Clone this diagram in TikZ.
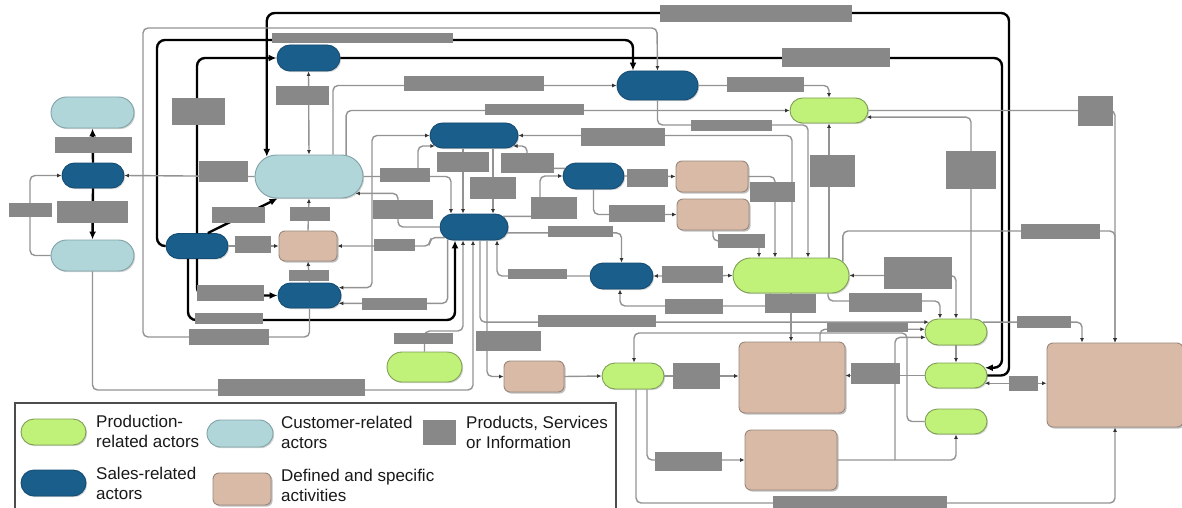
\documentclass[tikz,border=0pt]{standalone}
\usepackage{fontspec}
\setmainfont{Liberation Sans}
\usepackage{tikz}
\usetikzlibrary{arrows.meta,shapes.misc,shadows}
\definecolor{prodgreen}{HTML}{C0F279}
\definecolor{prodedge}{HTML}{7F9E55}
\definecolor{custblue}{HTML}{B0D6DA}
\definecolor{custedge}{HTML}{80A2A6}
\definecolor{salesblue}{HTML}{1A5E8C}
\definecolor{salesedge}{HTML}{154C72}
\definecolor{acttan}{HTML}{D8BAA6}
\definecolor{actedge}{HTML}{9A877B}
\definecolor{infogray}{HTML}{888888}
\definecolor{flowgray}{HTML}{939393}
\tikzset{
  actor/.style={rounded rectangle, inner sep=0pt, line width=0.9pt,
    drop shadow={shadow xshift=1.2pt, shadow yshift=-1.2pt, opacity=0.35}},
  prod/.style={actor, fill=prodgreen, draw=prodedge},
  cust/.style={actor, fill=custblue, draw=custedge},
  sales/.style={actor, fill=salesblue, draw=salesedge},
  act/.style={rectangle, rounded corners=6pt, inner sep=0pt, line width=0.9pt,
    fill=acttan, draw=actedge,
    drop shadow={shadow xshift=1.6pt, shadow yshift=-1.6pt, opacity=0.5}},
  info/.style={rectangle, inner sep=0pt, fill=infogray},
  flow/.style={draw=flowgray, line width=1.4pt, rounded corners=5pt},
  flowto/.style={flow, -{Latex[length=4.5pt,width=4pt,color=black!80]}},
  flowboth/.style={flow, {Latex[length=4.5pt,width=4pt,color=black!80]}-{Latex[length=4.5pt,width=4pt,color=black!80]}},
  main/.style={draw=black, line width=2.4pt, rounded corners=8pt, -{Latex[length=8pt,width=7pt]}},
  legtext/.style={anchor=north west, inner sep=0pt, align=left,
    font=\fontsize{17}{20}\selectfont, text=black!90}
}

\begin{document}
\begin{tikzpicture}[x=1pt, y=-1pt]
  % 1 unit = 1 px of the layout, y pointing down
  \useasboundingbox (0,0) rectangle (1182,508);

  % customer-related actors
  \node[cust, minimum width=83pt, minimum height=31pt] (cu1) at (92.5,112.5) {};
  \node[cust, minimum width=83pt, minimum height=31pt] (cu2) at (92.5,255.5) {};
  \node[cust, minimum width=108pt, minimum height=43pt] (cu3) at (309,176.5) {};

  % sales-related actors
  \node[sales, minimum width=62pt, minimum height=25pt] (sa1) at (93,175.5) {};
  \node[sales, minimum width=63pt, minimum height=26pt] (sa2) at (308.5,58) {};
  \node[sales, minimum width=62pt, minimum height=25pt] (sa3) at (197,246) {};
  \node[sales, minimum width=63pt, minimum height=25pt] (sa4) at (309.5,295.5) {};
  \node[sales, minimum width=81pt, minimum height=29pt] (sa5) at (657.5,85.5) {};
  \node[sales, minimum width=88pt, minimum height=25pt] (sa6) at (474,135.5) {};
  \node[sales, minimum width=68pt, minimum height=26pt] (sa7) at (474,227) {};
  \node[sales, minimum width=61pt, minimum height=26pt] (sa8) at (593.5,176) {};
  \node[sales, minimum width=63pt, minimum height=26pt] (sa9) at (621.5,276) {};

  % production-related actors
  \node[prod, minimum width=78pt, minimum height=25pt] (pr1) at (829,110.5) {};
  \node[prod, minimum width=116pt, minimum height=35pt] (pr2) at (791,275.5) {};
  \node[prod, minimum width=75pt, minimum height=30pt] (pr3) at (424.5,367) {};
  \node[prod, minimum width=62pt, minimum height=26pt] (pr4) at (633,376) {};
  \node[prod, minimum width=62pt, minimum height=26pt] (pr5) at (956,332) {};
  \node[prod, minimum width=62pt, minimum height=25pt] (pr6) at (956,375.5) {};
  \node[prod, minimum width=62pt, minimum height=25pt] (pr7) at (956,421.5) {};

  % activities
  \node[act, minimum width=58pt, minimum height=30pt] (ac1) at (308,246) {};
  \node[act, minimum width=72pt, minimum height=31pt] (ac2) at (712,176.5) {};
  \node[act, minimum width=72pt, minimum height=31pt] (ac3) at (713,214.5) {};
  \node[act, minimum width=60pt, minimum height=31pt] (ac4) at (534,376.5) {};
  \node[act, minimum width=106pt, minimum height=71pt] (ac5) at (792,377.5) {};
  \node[act, minimum width=92pt, minimum height=60pt] (ac6) at (791,460) {};
  \node[act, minimum width=136pt, minimum height=84pt] (ac7) at (1115,385) {};

  % junctions
  \coordinate (jA) at (895,460);
  \coordinate (jB) at (418,176.5);

  % main flows
  \draw[main] (sa3.west) -| (157,40) -| (633,0 |- sa5.north);
  \draw[main] (197,0 |- sa3.north) |- (sa2.west);
  \draw[main] (sa2.east) -| (1002,0 |- pr6.15) -- (pr6.15);
  \draw[main] (pr6.east) -| (1009,13) -| (cu3.155);
  \draw[main] (sa3.50) -- (cu3.215);
  \draw[main] (197,0 |- sa3.south) |- (sa4.west);
  \draw[main] (188,0 |- sa3.south) |- (455,320) -- (455,0 |- sa7.south);
  \draw[main] (sa1.north) -- (cu1.south);
  \draw[main] (sa1.south) -- (cu2.north);

  % left part
  \draw[flowto] (cu2.west) -| (30,175.5) -- (sa1.west);
  \draw[flowto] (cu3.west) -- (sa1.east);
  \draw[flowboth] (sa2.south) -- (cu3.north);
  \draw[flowto] (ac1.north) -- (cu3.south);
  \draw[flowto] (sa3.east) -- (ac1.west);
  \draw[flowto] (sa4.north) -- (ac1.south);
  \draw[flowto] (sa4.south) |- (143,337) |- (657,28) -- (sa5.north);
  \draw[flowto] (cu2.south) |- (473,390) -- (473,0 |- sa7.south);
  \draw[flowto] (333,0 |- cu3.north) |- (sa5.west);
  \draw[flowto] (cu3.30) |- (pr1.west);

  % middle part
  \draw[flowboth] (sa4.15) -| (372,135.5) -- (sa6.west);
  \draw[flowto] (cu3.east) -| (418,0 |- sa6.195) -- (sa6.195);
  \draw[flowto] (jB) -| (sa7.150);
  \draw[flowto] (463,0 |- sa6.south) -- (463,0 |- sa7.north);
  \draw[flowto] (493,0 |- sa6.south) -- (493,0 |- sa7.north);
  \draw[flowto] (sa8.165) -| (527,0 |- sa6.-15) -- (sa6.-15);
  \draw[flowto] (sa7.20) -| (540,176) -- (sa8.west);
  \draw[flowto] (sa7.west) -| (398,0 |- cu3.-20) -- (cu3.-20);
  \draw[flowto] (sa7.200) -| (430,0 |- ac1.east) -- (ac1.east);
  \draw[flowto] (sa7.205) |- (sa4.-15);
  \draw[flowto] (pr3.north) |- (463,331) -- (463,0 |- sa7.south);
  \draw[flowto] (487,0 |- sa7.south) |- (ac4.west);
  \draw[flowto] (480,0 |- sa7.south) |- (pr5.160);
  \draw[flowto] (sa7.-10) -| (sa9.north);
  \draw[flowto] (sa9.west) -| (sa7.-30);
  \draw[flowto] (sa8.east) -- (ac2.west);
  \draw[flowto] (sa8.south) |- (ac3.west);

  % upper right part
  \draw[flowto] (792,0 |- pr2.north) |- (sa6.east);
  \draw[flowto] (sa5.south) |- (808,125) -- (808,0 |- pr2.north);
  \draw[flowto] (sa5.east) -| (pr1.north);
  \draw[flowto] (829,0 |- pr2.north) -- (pr1.south);
  \draw[flowto] (pr1.east) -| (1115,0 |- ac7.north);
  \draw[flowto] (971,0 |- pr5.north) |- (pr1.-10);
  \draw[flowto] (pr2.15) |- (1115,231) -- (1115,0 |- ac7.north);
  \draw[flowto] (ac2.east) -| (775,0 |- pr2.north);
  \draw[flowto] (ac3.south) |- (759,241) -- (759,0 |- pr2.north);

  % lower right part
  \draw[flowboth] (sa9.east) -- (pr2.west);
  \draw[flowto] (770,0 |- pr2.south) |- (620,306) -- (620,0 |- sa9.south);
  \draw[flowboth] (pr2.east) -| (pr5.north);
  \draw[flowto] (828,0 |- pr2.south) |- (940,301) -- (940,0 |- pr5.north);
  \draw[flowto] (791,0 |- pr2.south) -- (791,0 |- ac5.north);
  \draw[flowto] (820,0 |- ac5.north) |- (pr5.175);
  \draw[flowto] (pr6.west) -- (ac5.east |- pr6.west);
  \draw[flowto] (pr4.east) -- (ac5.west |- pr4.east);
  \draw[flowto] (ac4.east) -- (pr4.west);
  \draw[flowto] (647,0 |- pr4.south) |- (ac6.west);
  \draw[flowto] (636,0 |- pr4.south) |- (1115,503) -- (1115,0 |- ac7.south);
  \draw[flowto] (ac6.east) -| (pr7.south);
  \draw[flowto] (jA) |- (pr5.190);
  \draw[flowto] (pr7.west) -| (907,333) -| (634,0 |- pr4.north);
  \draw[flowto] (pr5.south) -- (pr6.north);
  \draw[flowto] (pr5.20) -| (1082,0 |- ac7.north);
  \draw[flowboth] (pr6.-15) -- (ac7.west |- pr6.-15);

  % products, services or information
  \node[info, minimum width=192pt, minimum height=17pt] (i1) at (756,13.5) {};
  \node[info, minimum width=181pt, minimum height=10pt] (i2) at (362.5,38.5) {};
  \node[info, minimum width=108pt, minimum height=19pt] (i3) at (836,57.5) {};
  \node[info, minimum width=53pt, minimum height=27pt] (i4) at (198.5,111.5) {};
  \node[info, minimum width=53pt, minimum height=19pt] (i5) at (302.5,95.5) {};
  \node[info, minimum width=140pt, minimum height=15pt] (i6) at (474,84) {};
  \node[info, minimum width=77pt, minimum height=15pt] (i7) at (765.5,84.5) {};
  \node[info, minimum width=99pt, minimum height=11pt] (i8) at (534.5,109.5) {};
  \node[info, minimum width=81pt, minimum height=11pt] (i9) at (731.5,125.5) {};
  \node[info, minimum width=35pt, minimum height=30pt] (i10) at (1095.5,111) {};
  \node[info, minimum width=77pt, minimum height=16pt] (i11) at (93.5,145) {};
  \node[info, minimum width=49pt, minimum height=21pt] (i12) at (223.5,171.5) {};
  \node[info, minimum width=71pt, minimum height=22pt] (i13) at (92.5,212) {};
  \node[info, minimum width=43pt, minimum height=14pt] (i14) at (30.5,210) {};
  \node[info, minimum width=53pt, minimum height=16pt] (i15) at (238.5,215) {};
  \node[info, minimum width=40pt, minimum height=14pt] (i16) at (310,214) {};
  \node[info, minimum width=36pt, minimum height=17pt] (i17) at (253,244.5) {};
  \node[info, minimum width=50pt, minimum height=14pt] (i18) at (405,175) {};
  \node[info, minimum width=60pt, minimum height=19pt] (i19) at (403,209.5) {};
  \node[info, minimum width=41pt, minimum height=12pt] (i20) at (394.5,245) {};
  \node[info, minimum width=52pt, minimum height=20pt] (i21) at (463,162) {};
  \node[info, minimum width=53pt, minimum height=20pt] (i22) at (527.5,162.5) {};
  \node[info, minimum width=46pt, minimum height=22pt] (i23) at (493,188) {};
  \node[info, minimum width=46pt, minimum height=22pt] (i24) at (554,208) {};
  \node[info, minimum width=84pt, minimum height=18pt] (i25) at (623,137) {};
  \node[info, minimum width=41pt, minimum height=18pt] (i26) at (647.5,178) {};
  \node[info, minimum width=56pt, minimum height=17pt] (i27) at (637,213.5) {};
  \node[info, minimum width=65pt, minimum height=11pt] (i28) at (580.5,231.5) {};
  \node[info, minimum width=45pt, minimum height=20pt] (i29) at (772.5,192) {};
  \node[info, minimum width=47pt, minimum height=14pt] (i30) at (741.5,241) {};
  \node[info, minimum width=45pt, minimum height=32pt] (i31) at (832.5,171) {};
  \node[info, minimum width=50pt, minimum height=38pt] (i32) at (971,170) {};
  \node[info, minimum width=79pt, minimum height=15pt] (i33) at (1060.5,231) {};
  \node[info, minimum width=68pt, minimum height=32pt] (i34) at (918,273) {};
  \node[info, minimum width=73pt, minimum height=19pt] (i35) at (885.5,302.5) {};
  \node[info, minimum width=51pt, minimum height=19pt] (i36) at (790.5,303) {};
  \node[info, minimum width=61pt, minimum height=17pt] (i37) at (692.5,274.5) {};
  \node[info, minimum width=58pt, minimum height=15pt] (i38) at (694,306.5) {};
  \node[info, minimum width=59pt, minimum height=10pt] (i39) at (537.5,274) {};
  \node[info, minimum width=118pt, minimum height=12pt] (i40) at (597,321) {};
  \node[info, minimum width=67pt, minimum height=16pt] (i41) at (230.5,293) {};
  \node[info, minimum width=65pt, minimum height=12pt] (i42) at (394.5,304) {};
  \node[info, minimum width=40pt, minimum height=11pt] (i43) at (309,275.5) {};
  \node[info, minimum width=68pt, minimum height=11pt] (i44) at (229,318.5) {};
  \node[info, minimum width=80pt, minimum height=16pt] (i45) at (229,337) {};
  \node[info, minimum width=59pt, minimum height=11pt] (i46) at (423.5,338.5) {};
  \node[info, minimum width=65pt, minimum height=20pt] (i47) at (508.5,341) {};
  \node[info, minimum width=47pt, minimum height=26pt] (i48) at (696.5,376) {};
  \node[info, minimum width=81pt, minimum height=9pt] (i49) at (867.5,327.5) {};
  \node[info, minimum width=49pt, minimum height=21pt] (i50) at (875.5,373.5) {};
  \node[info, minimum width=54pt, minimum height=12pt] (i51) at (1044,322) {};
  \node[info, minimum width=67pt, minimum height=19pt] (i52) at (688.5,461.5) {};
  \node[info, minimum width=147pt, minimum height=17pt] (i53) at (291.5,387.5) {};
  \node[info, minimum width=174pt, minimum height=12pt] (i54) at (860,502) {};
  \node[info, minimum width=29pt, minimum height=15pt] (i55) at (1023.5,383.5) {};

  % legend
  \draw[line width=1.2pt, draw=black!70] (15,515) |- (616,403) -- (616,515);
  \node[prod, minimum width=65pt, minimum height=26pt] (lgProd) at (53.5,432) {};
  \node[legtext] (lgProdText) at (96,415) {Production-\\related actors};
  \node[cust, minimum width=66pt, minimum height=27pt] (lgCust) at (240,433.5) {};
  \node[legtext] (lgCustText) at (281,416) {Customer-related\\actors};
  \node[info, minimum width=33pt, minimum height=25pt] (lgInfo) at (439.5,432.5) {};
  \node[legtext] (lgInfoText) at (466,416) {Products, Services\\or Information};
  \node[sales, minimum width=65pt, minimum height=26pt] (lgSales) at (53.5,483) {};
  \node[legtext] (lgSalesText) at (96,467) {Sales-related\\actors};
  \node[act, minimum width=58pt, minimum height=32pt] (lgAct) at (242,489) {};
  \node[legtext] (lgActText) at (281,469) {Defined and specific\\activities};
\end{tikzpicture}
\end{document}
